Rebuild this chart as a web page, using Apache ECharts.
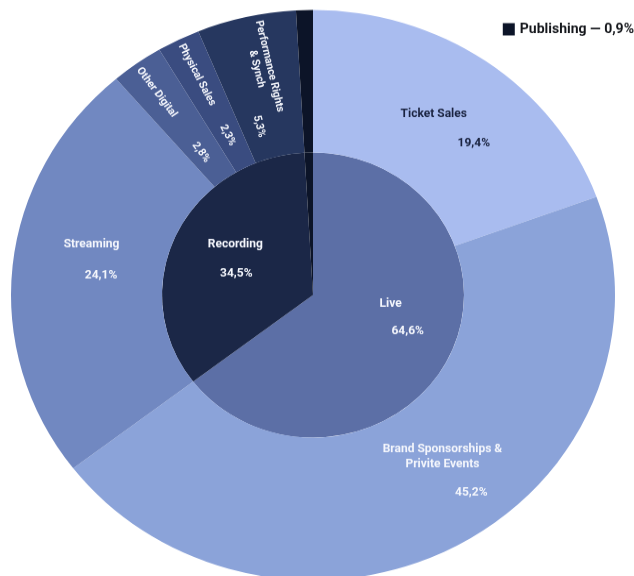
<!DOCTYPE html>
<html>
<head>
<meta charset="utf-8">
<script src="https://cdn.jsdelivr.net/npm/echarts@6/dist/echarts.min.js"></script>
<style>
  html, body { margin: 0; padding: 0; background: #ffffff; overflow: hidden; }
  #wrap { width: 634px; height: 576px; overflow: hidden; }
  /* the chart is drawn slightly taller and squeezed vertically into 576px */
  #chart { width: 634px; height: 610px; transform: scaleY(0.944); transform-origin: 0 0; }
</style>
</head>
<body>
<div id="wrap"><div id="chart"></div></div>
<script>
// Music industry revenue split
const innerNames = ['Live', 'Recording', 'Publishing'];
const innerValues = [64.6, 34.5, 0.9];
const innerColors = ['#5c6fa6', '#1b2747', '#0c1428'];

const outerNames = ['Ticket Sales', 'Brand Sponsorships &\nPrivite Events', 'Streaming',
  'Other Digital', 'Physical Sales', 'Performance Rights\n& Synch', 'Publishing'];
const outerValues = [19.4, 45.2, 24.1, 2.8, 2.3, 5.3, 0.9];
const outerColors = ['#a9bcef', '#8ba3d9', '#7188c1', '#4b5f95', '#3a4c80', '#26375f', '#0c1428'];

const legendNames = ['Publishing'];

// where the name block and the value sit, in the label's own (rotated) frame,
// relative to the slice's label anchor
const spots = {
  'Ticket Sales': { name: [-10.6, -3], value: [29.4, 28], color: '#1a2340' },
  'Brand Sponsorships &\nPrivite Events': { name: [18.9, -29.2], value: [47.7, 8.8], lh: 16 },
  'Streaming': { name: [6.8, -30], value: [16.3, 3] },
  'Other Digital': { rot: -54.4, size: 11, name: [-36, 2], value: [41.5, 1] },
  'Physical Sales': { rot: -63.5, size: 11, name: [-31, 0], value: [40, -1.5] },
  'Performance Rights\n& Synch': { rot: -77.2, size: 11, name: [-16.5, -4.6], value: [43.3, 13.1], lh: 13 },
  'Live': { name: [7.3, -25.6], value: [24.3, 4] },
  'Recording': { name: [-6.4, -21.2], value: [-5.4, 9.8] }
};

function pct(v) { return v.toFixed(1).replace('.', ',') + '%'; }

function buildLabel(name, value) {
  const spot = spots[name];
  if (!spot) return { show: false };
  const lines = name.split('\n');
  const k = lines.length;
  const LH = k > 1 ? spot.lh : 1;
  const nx = spot.name[0], ny = spot.name[1];
  const vx = spot.value[0], vy = spot.value[1];
  const LV = Math.max(1, 2 * (vy - ny) - k * LH);
  const H = k * LH + LV;
  const cy = ny - k * LH / 2 + H / 2;
  const hpad = x => (x >= 0 ? [0, 0, 0, 2 * x] : [0, -2 * x, 0, 0]);
  const font = {
    fontFamily: 'Roboto', fontWeight: 'bold', fontSize: spot.size || 12,
    color: spot.color || '#f4f6fc'
  };
  return {
    show: true,
    position: 'inside',
    rotate: spot.rot || 0,
    padding: cy >= 0 ? [2 * cy, 0, 0, 0] : [0, 0, -2 * cy, 0],
    formatter: lines.map(l => '{n|' + l + '}').join('\n') + '\n{v|' + pct(value) + '}',
    rich: {
      n: Object.assign({}, font, { lineHeight: LH, padding: hpad(nx) }),
      v: Object.assign({}, font, { lineHeight: LV, padding: hpad(vx) })
    }
  };
}

function ring(names, values, colors) {
  return names.map((n, i) => ({
    name: n,
    value: values[i],
    itemStyle: { color: colors[i] },
    label: buildLabel(n, values[i])
  }));
}

const chart = echarts.init(document.getElementById('chart'), null, { renderer: 'canvas' });
chart.setOption({
  animation: false,
  legend: {
    data: legendNames.map(n => ({ name: n, icon: 'rect' })),
    right: 0,
    top: 24,
    padding: 0,
    itemWidth: 12,
    itemHeight: 13,
    itemGap: 6,
    selectedMode: false,
    formatter: n => n + ' \u2014 ' + pct(innerValues[innerNames.indexOf(n)]),
    textStyle: { fontFamily: 'Roboto', fontWeight: 'bold', fontSize: 14, color: '#15171c' }
  },
  series: [
    {
      type: 'pie',
      center: [313, 312.5],
      radius: [0, 151],
      startAngle: 90,
      clockwise: true,
      silent: true,
      labelLine: { show: false },
      itemStyle: { borderWidth: 0 },
      data: ring(innerNames, innerValues, innerColors)
    },
    {
      type: 'pie',
      center: [313, 312.5],
      radius: [151, 302],
      startAngle: 90,
      clockwise: true,
      silent: true,
      labelLine: { show: false },
      itemStyle: { borderWidth: 0 },
      data: ring(outerNames, outerValues, outerColors)
    }
  ]
});
</script>
</body>
</html>
